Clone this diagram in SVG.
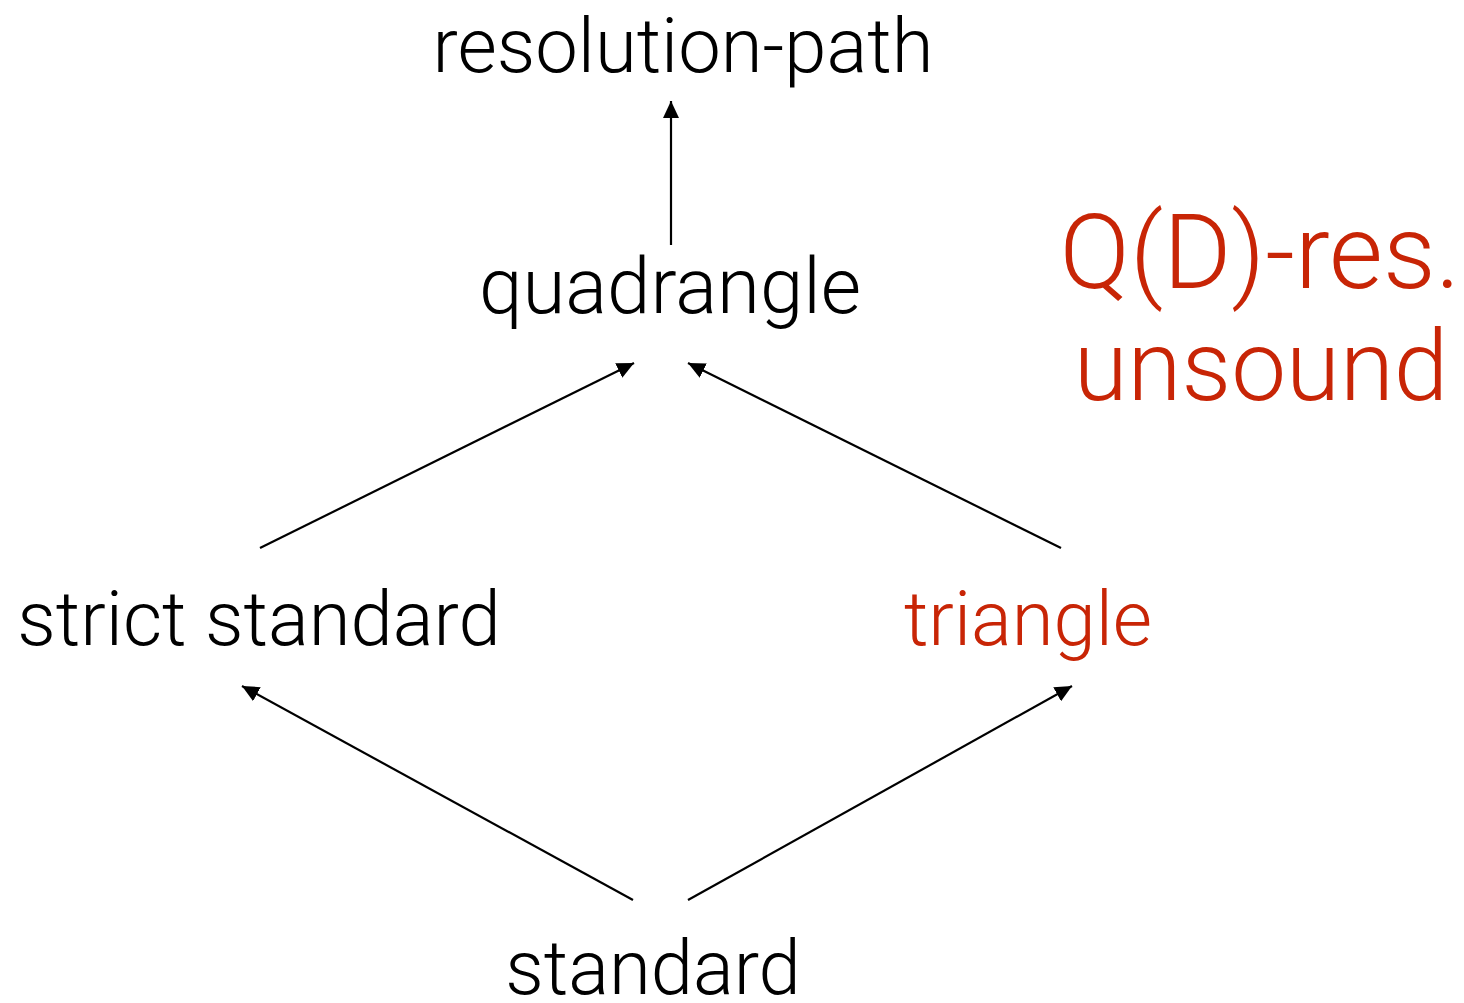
<svg xmlns="http://www.w3.org/2000/svg" width="1464" height="1003" viewBox="0 0 1464 1003">
  <style>
    .lbl { font-family: Roboto, "Liberation Sans", sans-serif; font-weight: 300; font-size: 76px; fill: #000; text-anchor: middle; }
    .red { fill: #C82506; }
    .big { font-size: 104px; }
    .edge { stroke: #000; stroke-width: 2.2; fill: none; marker-end: url(#arr); }
  </style>
  <defs>
    <marker id="arr" markerUnits="userSpaceOnUse" markerWidth="18" markerHeight="16" viewBox="0 0 18 16" refX="17" refY="8" orient="auto">
      <path d="M0,0 L17,8 L0,16 Z" fill="#000"/>
    </marker>
  </defs>
  <rect width="1464" height="1003" fill="#fff"/>
  <g id="connectors">
    <line class="edge" x1="671" y1="245" x2="671" y2="101"/>
    <line class="edge" x1="260" y1="548" x2="634" y2="363"/>
    <line class="edge" x1="1061" y1="548" x2="688" y2="363"/>
    <line class="edge" x1="633" y1="900" x2="242" y2="686"/>
    <line class="edge" x1="688" y1="900" x2="1072" y2="686"/>
  </g>
  <g id="resolution-path"><text class="lbl" x="683" y="72">resolution-path</text></g>
  <g id="quadrangle"><text class="lbl" x="670" y="313" style="font-size:78px">quadrangle</text></g>
  <g id="strict-standard"><text class="lbl" x="259" y="645">strict standard</text></g>
  <g id="triangle"><text class="lbl red" x="1028" y="645">triangle</text></g>
  <g id="standard"><text class="lbl" x="653" y="994">standard</text></g>
  <g id="note"><text class="lbl red big" x="1260" y="288">Q(D)-res.</text><text class="lbl red big" x="1261" y="400" style="font-size:98px">unsound</text></g>
</svg>
